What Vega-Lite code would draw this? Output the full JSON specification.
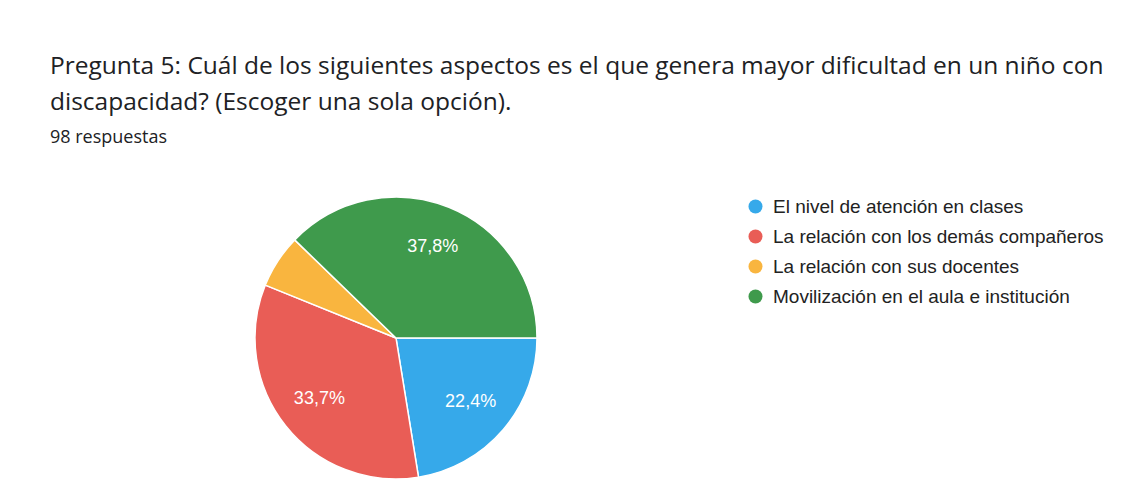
{
  "$schema": "https://vega.github.io/schema/vega-lite/v6.json",
  "width": 692,
  "height": 284,
  "autosize": "none",
  "padding": {"left": 50, "top": 196, "right": 385, "bottom": 19},
  "background": "#ffffff",
  "title": {
    "text": ["Pregunta 5: Cuál de los siguientes aspectos es el que genera mayor dificultad en un niño con", "discapacidad? (Escoger una sola opción)."],
    "subtitle": "98 respuestas",
    "anchor": "start",
    "font": "Open Sans",
    "fontSize": 24.5,
    "fontWeight": "normal",
    "color": "#202124",
    "lineHeight": 36,
    "subtitleFont": "Open Sans",
    "subtitleFontSize": 18,
    "subtitleColor": "#202124",
    "subtitlePadding": 14,
    "offset": 46
  },
  "data": {
    "values": [
      {"opcion": "El nivel de atención en clases", "respuestas": 22, "etiqueta": "22,4%"},
      {"opcion": "La relación con los demás compañeros", "respuestas": 33, "etiqueta": "33,7%"},
      {"opcion": "La relación con sus docentes", "respuestas": 6, "etiqueta": ""},
      {"opcion": "Movilización en el aula e institución", "respuestas": 37, "etiqueta": "37,8%"}
    ]
  },
  "encoding": {
    "theta": {"field": "respuestas", "type": "quantitative", "stack": true, "scale": {"range": [1.5707963, 7.8539816]}},
    "order": {"field": "opcion", "type": "nominal", "sort": "ascending"},
    "color": {
      "field": "opcion",
      "type": "nominal",
      "scale": {
        "domain": ["El nivel de atención en clases", "La relación con los demás compañeros", "La relación con sus docentes", "Movilización en el aula e institución"],
        "range": ["#36a9ea", "#e95d56", "#f9b53f", "#3f9a4c"]
      },
      "legend": {
        "title": null,
        "orient": "none",
        "legendX": 696,
        "legendY": 1,
        "padding": 0,
        "symbolType": "circle",
        "symbolSize": 196,
        "symbolStrokeWidth": 0,
        "labelFont": "Liberation Sans",
        "labelFontSize": 19,
        "labelColor": "#222222",
        "labelOffset": 8,
        "rowPadding": 10,
        "labelLimit": 400
      }
    }
  },
  "layer": [
    {
      "mark": {"type": "arc", "outerRadius": 141, "stroke": "#ffffff", "strokeWidth": 1.5}
    },
    {
      "mark": {"type": "text", "radius": 98, "font": "Liberation Sans", "fontSize": 18, "fill": "#ffffff", "align": "center", "baseline": "middle"},
      "encoding": {
        "text": {"field": "etiqueta", "type": "nominal"},
        "color": {"value": "#ffffff"}
      }
    }
  ],
  "config": {"view": {"stroke": null}}
}
